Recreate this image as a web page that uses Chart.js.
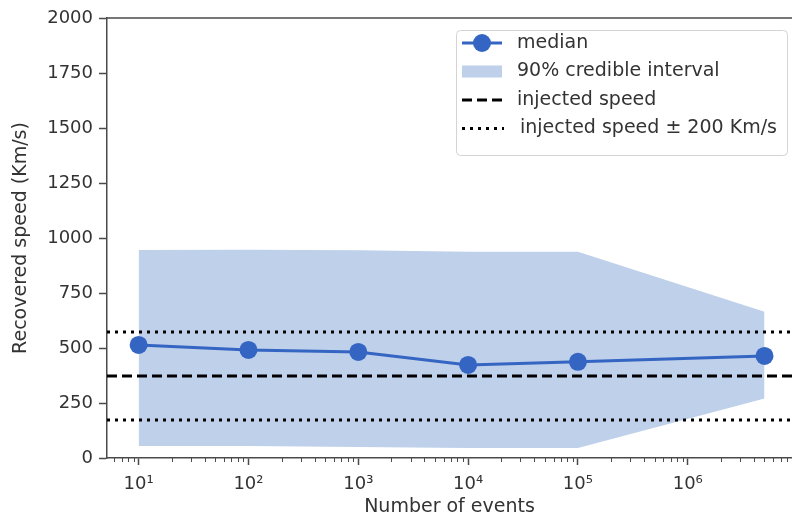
<!DOCTYPE html>
<html>
<head>
<meta charset="utf-8">
<script src="https://cdn.jsdelivr.net/npm/chart.js@4.4.1/dist/chart.umd.min.js"></script>
<style>
  html, body { margin: 0; padding: 0; background: #fff; overflow: hidden; }
</style>
</head>
<body>
<canvas id="speedChart" width="792" height="525"></canvas>
<script>
// recovered speed vs number of events
const events = [10, 100, 1000, 1e4, 1e5, 5e6];
const medianSpeed = [514, 491, 482, 423, 437, 464];
const ciLower = [55, 55, 50, 45, 45, 270];
const ciUpper = [945, 947, 944, 938, 938, 665];
const injectedSpeed = 373;
const speedBand = 200;

const xLimits = [5.15, 8.9e6];
const xMajorTicks = [10, 100, 1000, 1e4, 1e5, 1e6];
const xTickLabels = ['10¹', '10²', '10³', '10⁴', '10⁵', '10⁶'];
const yTicks = [0, 250, 500, 750, 1000, 1250, 1500, 1750, 2000];

const blue = '#3565c3';
const bandColor = '#bed0ea';
const axisColor = '#4a4a4a';
const textColor = '#333';

Chart.defaults.font.family = "'DejaVu Sans', sans-serif";
Chart.defaults.font.size = 18;
Chart.defaults.color = textColor;

const pts = (ys) => events.map((x, i) => ({ x: x, y: ys[i] }));
const hline = (y) => [{ x: xLimits[0], y: y }, { x: xLimits[1], y: y }];

// top spine + minor log ticks
const frameBits = {
  id: 'frameBits',
  afterDraw(chart) {
    const { ctx, chartArea } = chart;
    const x = chart.scales.x;
    ctx.save();
    ctx.strokeStyle = axisColor;
    ctx.lineWidth = 1.5;
    ctx.beginPath();
    ctx.moveTo(chartArea.left, chartArea.top);
    ctx.lineTo(chartArea.right, chartArea.top);
    ctx.stroke();
    ctx.lineWidth = 1;
    for (let e = 0; e <= 7; e++) {
      for (let m = 2; m <= 9; m++) {
        const v = m * Math.pow(10, e);
        if (v < x.min || v > x.max) continue;
        const px = Math.round(x.getPixelForValue(v)) + 0.5;
        ctx.beginPath();
        ctx.moveTo(px, chartArea.bottom);
        ctx.lineTo(px, chartArea.bottom + 4);
        ctx.stroke();
      }
    }
    ctx.restore();
  }
};

// matplotlib-like legend box, upper right
const boxLegend = {
  id: 'boxLegend',
  afterDraw(chart) {
    const ctx = chart.ctx;
    const ds = chart.data.datasets;
    const items = [
      { kind: 'marker', label: ds[0].label },
      { kind: 'patch', label: ds[2].label },
      { kind: 'dash', label: ds[3].label },
      { kind: 'dot', label: ds[4].label }
    ];
    const bx = 456, by = 30, bw = 331, bh = 125;
    ctx.save();
    ctx.fillStyle = 'rgba(255,255,255,0.85)';
    ctx.strokeStyle = '#d4d4d4';
    ctx.lineWidth = 1;
    ctx.beginPath();
    ctx.roundRect(bx + 0.5, by + 0.5, bw, bh, 4);
    ctx.fill();
    ctx.stroke();

    ctx.font = "19px 'DejaVu Sans'";
    ctx.textBaseline = 'middle';
    ctx.fillStyle = textColor;
    items.forEach((it, i) => {
      const cy = 43 + i * 28.5;
      const x0 = 462, x1 = 502;
      ctx.save();
      if (it.kind === 'marker') {
        ctx.strokeStyle = blue;
        ctx.lineWidth = 3;
        ctx.beginPath(); ctx.moveTo(x0, cy); ctx.lineTo(x1, cy); ctx.stroke();
        ctx.fillStyle = blue;
        ctx.beginPath(); ctx.arc((x0 + x1) / 2, cy, 9, 0, Math.PI * 2); ctx.fill();
      } else if (it.kind === 'patch') {
        ctx.fillStyle = bandColor;
        ctx.fillRect(x0, cy - 6, x1 - x0, 12);
      } else {
        ctx.strokeStyle = '#000';
        ctx.lineWidth = 3;
        ctx.setLineDash(it.kind === 'dash' ? [10, 5] : [3, 5]);
        ctx.beginPath(); ctx.moveTo(x0, cy); ctx.lineTo(x1 + 2, cy); ctx.stroke();
      }
      ctx.restore();
      ctx.fillText(it.label, it.kind === 'dot' ? 520 : 517, cy);
    });
    ctx.restore();
  }
};

new Chart(document.getElementById('speedChart'), {
  type: 'line',
  data: {
    datasets: [
      {
        label: 'median',
        data: pts(medianSpeed),
        borderColor: blue,
        backgroundColor: blue,
        borderWidth: 3,
        pointRadius: 9,
        pointBorderWidth: 0,
        pointBackgroundColor: blue,
        fill: false,
        order: 0
      },
      {
        label: 'lower',
        data: pts(ciLower),
        borderWidth: 0,
        pointRadius: 0,
        fill: false,
        order: 3
      },
      {
        label: '90% credible interval',
        data: pts(ciUpper),
        borderWidth: 0,
        pointRadius: 0,
        backgroundColor: bandColor,
        fill: '-1',
        order: 3
      },
      {
        label: 'injected speed',
        data: hline(injectedSpeed),
        borderColor: '#000',
        borderWidth: 3,
        borderDash: [10, 5],
        pointRadius: 0,
        fill: false,
        order: 1
      },
      {
        label: 'injected speed ± ' + speedBand + ' Km/s',
        data: hline(injectedSpeed + speedBand),
        borderColor: '#000',
        borderWidth: 3,
        borderDash: [3, 5],
        pointRadius: 0,
        fill: false,
        order: 1
      },
      {
        label: 'injected speed - band',
        data: hline(injectedSpeed - speedBand),
        borderColor: '#000',
        borderWidth: 3,
        borderDash: [3, 5],
        pointRadius: 0,
        fill: false,
        order: 1
      }
    ]
  },
  options: {
    responsive: false,
    animation: false,
    devicePixelRatio: 1,
    layout: { autoPadding: false, padding: { top: 18, right: 0, bottom: 0, left: 0 } },
    plugins: {
      legend: { display: false },
      tooltip: { enabled: false }
    },
    scales: {
      x: {
        type: 'logarithmic',
        min: xLimits[0],
        max: xLimits[1],
        afterBuildTicks: (s) => { s.ticks = xMajorTicks.map(v => ({ value: v })); },
        afterFit: (s) => { s.height = 67; s.paddingLeft = 0; s.paddingRight = 0; },
        ticks: {
          autoSkip: false,
          maxRotation: 0,
          padding: 9,
          color: textColor,
          callback: (v) => {
            const i = xMajorTicks.indexOf(v);
            return i >= 0 ? xTickLabels[i] : '';
          }
        },
        grid: {
          drawOnChartArea: false,
          drawTicks: true,
          tickLength: 7,
          tickWidth: 1.5,
          tickColor: axisColor
        },
        border: { display: true, color: axisColor, width: 1.5 },
        title: {
          display: true,
          text: 'Number of events',
          color: textColor,
          font: { size: 19, lineHeight: 1.2 },
          padding: { top: 0, bottom: 7 }
        }
      },
      y: {
        type: 'linear',
        min: 0,
        max: 2000,
        afterBuildTicks: (s) => { s.ticks = yTicks.map(v => ({ value: v })); },
        afterFit: (s) => { s.width = 107; },
        ticks: {
          padding: 6,
          color: textColor,
          callback: (v) => String(v)
        },
        grid: {
          drawOnChartArea: false,
          drawTicks: true,
          tickLength: 8,
          tickWidth: 1.5,
          tickColor: axisColor
        },
        border: { display: true, color: axisColor, width: 1.5 },
        title: {
          display: true,
          text: 'Recovered speed (Km/s)',
          color: textColor,
          font: { size: 19, lineHeight: 1.2 },
          padding: { top: 10, bottom: 0 }
        }
      }
    }
  },
  plugins: [frameBits, boxLegend]
});
</script>
</body>
</html>
